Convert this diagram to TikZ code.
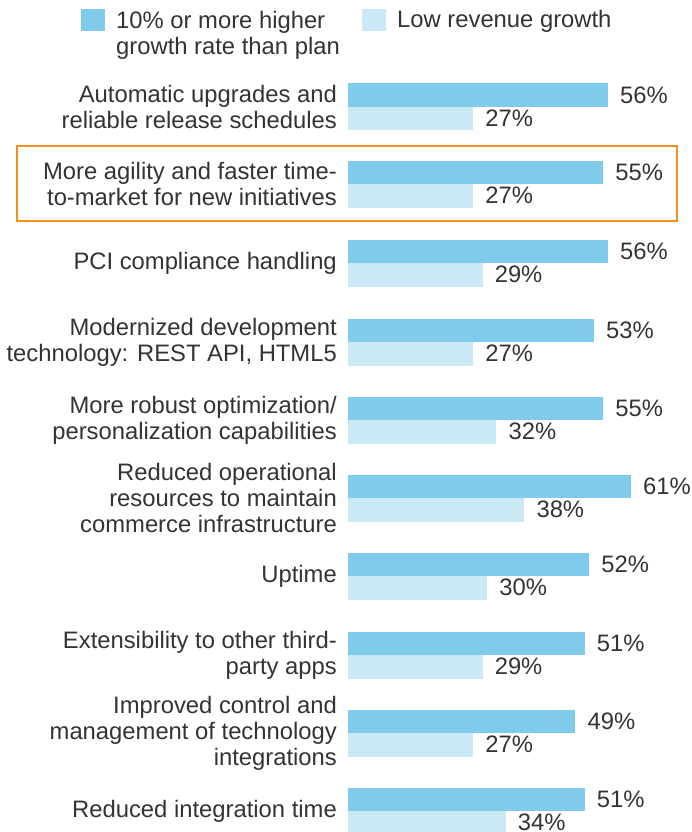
\documentclass[tikz,border=0pt]{standalone}
\usepackage{fontspec}
\setmainfont{Liberation Sans}
\definecolor{darkbar}{RGB}{128,203,236}
\definecolor{lightbar}{RGB}{201,233,244}
\definecolor{txt}{RGB}{51,51,51}
\definecolor{hl}{RGB}{247,143,30}
\begin{document}
\begin{tikzpicture}[x=1pt,y=1pt,
  basefont/.style={inner sep=0, text=txt, font=\fontsize{23.8}{26}\selectfont},
  lbl/.style={basefont, anchor=east, align=right},
  pct/.style={basefont, anchor=west},
  legtext/.style={basefont, align=left}]
\useasboundingbox (0,0) rectangle (691,-832);
\fill[white] (0,0) rectangle (691,-832);
% legend
\fill[darkbar] (81,-9) rectangle (105,-31);
\node[legtext, anchor=north west] (leg1) at (116,-11.5) {10\% or more higher\\growth rate than plan};
\fill[lightbar] (362,-9) rectangle (386,-31);
\node[legtext, anchor=base west] (leg2) at (397,-28) {Low revenue growth};
% highlight box
\draw[hl, line width=2] (17,-146) rectangle (677,-221);
% bars
\foreach \b/\hi/\lo/\lab [count=\i] in {
  107/56/27/{Automatic upgrades and\\reliable release schedules},
  184/55/27/{More agility and faster time-\\to-market for new initiatives},
  263/56/29/{PCI compliance handling},
  342/53/27/{Modernized development\\technology: REST API, HTML5},
  420/55/32/{More robust optimization/\\personalization capabilities},
  498/61/38/{Reduced operational\\resources to maintain\\commerce infrastructure},
  576/52/30/{Uptime},
  655/51/29/{Extensibility to other third-\\party apps},
  733/49/27/{Improved control and\\management of technology\\integrations},
  811/51/34/{Reduced integration time}} {
  \fill[darkbar] (348,-\b+23.5) rectangle ++(4.64*\hi,-23.5);
  \fill[lightbar] (348,-\b) rectangle ++(4.64*\lo,-23.5);
  \node[lbl] (label\i) at (337,-\b) {\lab};
  \node[pct] (hi\i) at ({348+4.64*\hi+12},-\b+11.75) {\hi\%};
  \node[pct] (lo\i) at ({348+4.64*\lo+12},-\b-11.75) {\lo\%};
}
\end{tikzpicture}
\end{document}
